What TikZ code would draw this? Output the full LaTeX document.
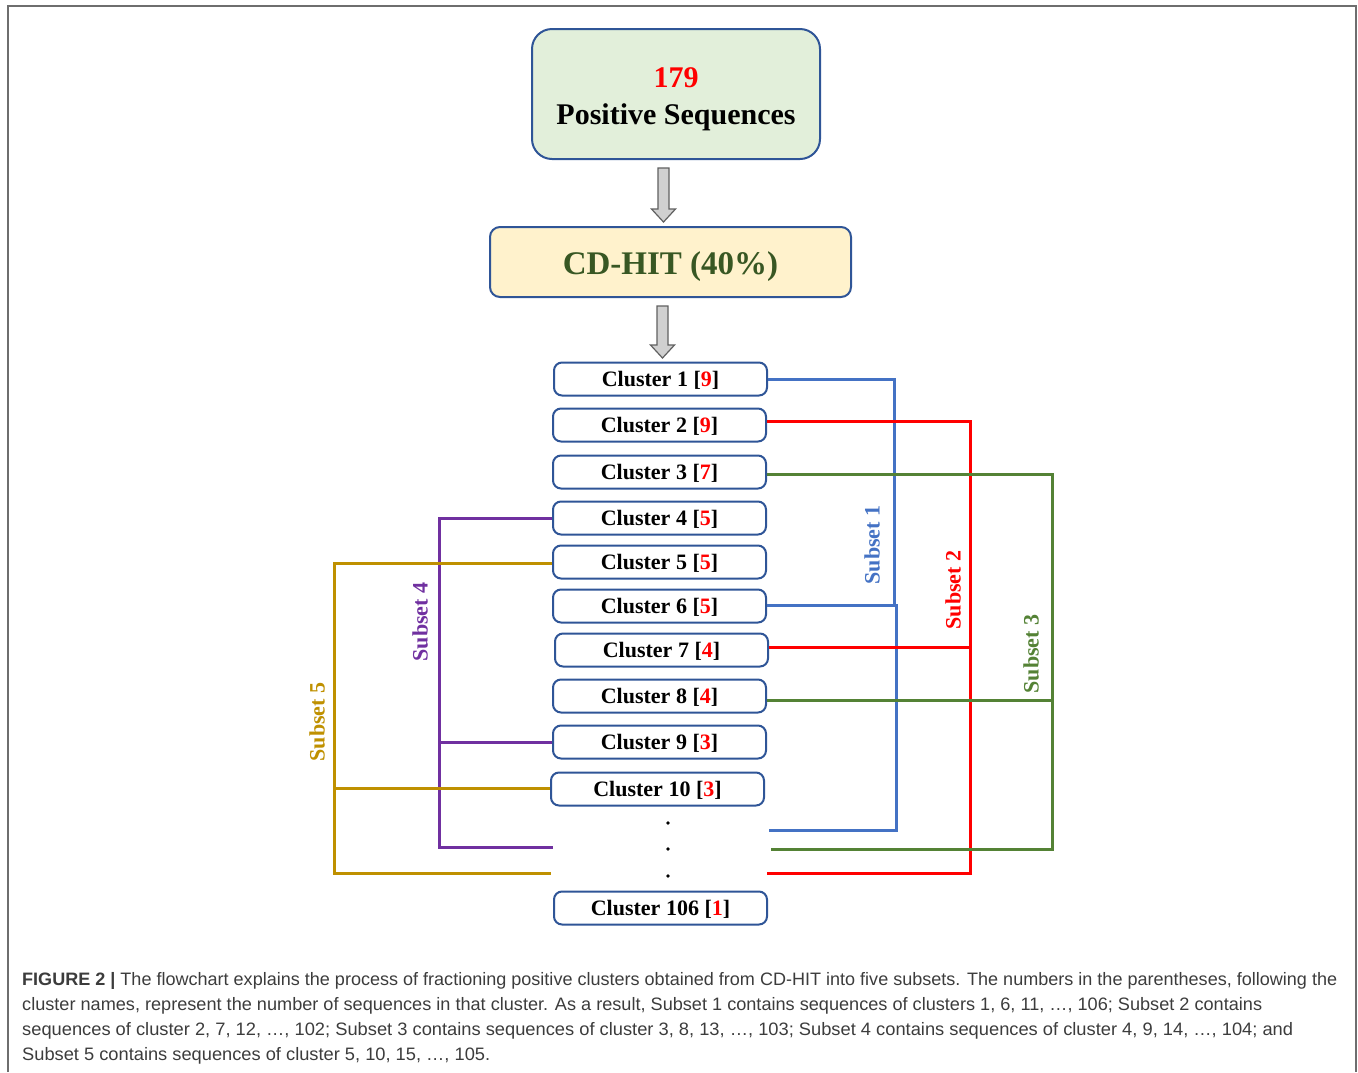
\documentclass[tikz,border=0pt]{standalone}
\usepackage{fontspec}
\setmainfont{Liberation Serif}
\setsansfont{Liberation Sans}
\usepackage{graphicx}
\definecolor{boxblue}{HTML}{2F5597}
\definecolor{greenfill}{HTML}{E2EFDA}
\definecolor{yellowfill}{HTML}{FFF2CC}
\definecolor{darkgreen}{HTML}{385723}
\definecolor{sone}{HTML}{4472C4}
\definecolor{stwo}{HTML}{FF0000}
\definecolor{sthree}{HTML}{548235}
\definecolor{sfour}{HTML}{7030A0}
\definecolor{sfive}{HTML}{BF9000}
\definecolor{capgray}{HTML}{3C3C3C}
\definecolor{framegray}{HTML}{6E6E6E}
\definecolor{arrowfill}{HTML}{D0D0D0}
\definecolor{arrowdraw}{HTML}{606060}
\tikzset{
  cluster/.style={draw=boxblue, line width=2pt, rounded corners=8pt, fill=white,
    minimum width=213pt, minimum height=33pt, inner sep=0pt,
    text height=18pt, text depth=3pt,
    font=\fontsize{22}{26}\selectfont\bfseries},
  subline/.style={line width=3pt},
  sublabel/.style={rotate=90, font=\fontsize{22}{26}\selectfont\bfseries},
  blockarrow/.style={fill=arrowfill, draw=arrowdraw, line width=1.2pt},
  capline/.style={anchor=base west, inner sep=0pt, text=capgray, font=\sffamily\fontsize{18}{22}\selectfont}
}
\newcommand{\rn}[1]{\textcolor{red}{#1}}
\begin{document}
\begin{tikzpicture}[x=1pt,y=-1pt]
\useasboundingbox (0,0) rectangle (1358,1072);
% frame
\draw[framegray, line width=2pt] (8,1072) -- (8,6) -- (1356,6) -- (1356,1072);

% top boxes
\node[draw=boxblue, line width=2pt, rounded corners=20pt, fill=greenfill,
  minimum width=288pt, minimum height=130pt] (pos) at (676,94) {};
\node[align=center, font=\fontsize{30}{37}\selectfont\bfseries] (postext) at (676,99)
  {\rn{179}\\Positive Sequences};
\node[draw=boxblue, line width=2pt, rounded corners=10pt, fill=yellowfill,
  minimum width=361pt, minimum height=70pt] (cd) at (670.5,262) {};
\node[text=darkgreen, font=\fontsize{33}{40}\selectfont\bfseries] (cdtext) at (670.5,267) {CD-HIT (40\%)};

% block arrows
\draw[blockarrow] (658,168) -- (669,168) -- (669,209) -- (675.5,209) -- (663.5,222)
  -- (651.5,209) -- (658,209) -- cycle;
\draw[blockarrow] (657,306) -- (668,306) -- (668,345) -- (674.5,345) -- (662.5,358)
  -- (650.5,345) -- (657,345) -- cycle;

% clusters
\node[cluster] (c1) at (660.5,379) {Cluster 1 [\rn{9}]};
\node[cluster] (c2) at (659.5,425) {Cluster 2 [\rn{9}]};
\node[cluster] (c3) at (659.5,472) {Cluster 3 [\rn{7}]};
\node[cluster] (c4) at (659.5,518) {Cluster 4 [\rn{5}]};
\node[cluster] (c5) at (659.5,562) {Cluster 5 [\rn{5}]};
\node[cluster] (c6) at (659.5,606) {Cluster 6 [\rn{5}]};
\node[cluster] (c7) at (661.5,650) {Cluster 7 [\rn{4}]};
\node[cluster] (c8) at (659.5,696) {Cluster 8 [\rn{4}]};
\node[cluster] (c9) at (659.5,742) {Cluster 9 [\rn{3}]};
\node[cluster] (c10) at (657.5,789) {Cluster 10 [\rn{3}]};
\node[cluster] (c106) at (660.5,908) {Cluster 106 [\rn{1}]};

% dots
\fill (668,823) circle (1.8pt);
\fill (668,849) circle (1.8pt);
\fill (668,876) circle (1.8pt);

% free ends and vertical positions
\coordinate (e1) at (769,830);
\coordinate (e2) at (767,873);
\coordinate (e3) at (771,849);
\coordinate (e4) at (553,847);
\coordinate (e5) at (551,873);
\coordinate (v1) at (894,0);
\coordinate (v1b) at (896,0);
\coordinate (v2) at (970,0);
\coordinate (v3) at (1052,0);
\coordinate (v4) at (439,0);
\coordinate (v5) at (334,0);

% subset 1
\draw[subline, sone] (c1.east) -| ([yshift=1pt]c6.east -| v1);
\draw[subline, sone] ([yshift=1pt]c6.east) -| (e1 -| v1b) -- (e1);
% subset 2
\draw[subline, stwo] ([yshift=4pt]c2.east) -| (e2 -| v2) -- (e2);
\draw[subline, stwo] ([yshift=3pt]c7.east) -- ([yshift=3pt]c7.east -| v2);
% subset 3
\draw[subline, sthree] ([yshift=-2pt]c3.east) -| (e3 -| v3) -- (e3);
\draw[subline, sthree] ([yshift=-4pt]c8.east) -- ([yshift=-4pt]c8.east -| v3);
% subset 4
\draw[subline, sfour] (c4.west) -| (e4 -| v4) -- (e4);
\draw[subline, sfour] (c9.west) -- (c9.west -| v4);
% subset 5
\draw[subline, sfive] ([yshift=-1pt]c5.west) -| (e5 -| v5) -- (e5);
\draw[subline, sfive] ([yshift=1pt]c10.west) -- ([yshift=1pt]c10.west -| v5);

% subset labels
\node[sublabel, text=sone] (l1) at (872,545) {Subset 1};
\node[sublabel, text=stwo] (l2) at (953,590) {Subset 2};
\node[sublabel, text=sthree] (l3) at (1031,654) {Subset 3};
\node[sublabel, text=sfour] (l4) at (420,622) {Subset 4};
\node[sublabel, text=sfive] (l5) at (317,722) {Subset 5};

% caption
\node[capline] (cap1) at (22,985) {\resizebox{1315pt}{\height}{\textbf{FIGURE 2 |} The flowchart explains the process of fractioning positive clusters obtained from CD-HIT into five subsets. The numbers in the parentheses, following the}};
\node[capline] (cap2) at (22,1010) {\resizebox{1240pt}{\height}{cluster names, represent the number of sequences in that cluster. As a result, Subset 1 contains sequences of clusters 1, 6, 11, \dots, 106; Subset 2 contains}};
\node[capline] (cap3) at (22,1035) {\resizebox{1271pt}{\height}{sequences of cluster 2, 7, 12, \dots, 102; Subset 3 contains sequences of cluster 3, 8, 13, \dots, 103; Subset 4 contains sequences of cluster 4, 9, 14, \dots, 104; and}};
\node[capline] (cap4) at (22,1060) {\resizebox{468pt}{\height}{Subset 5 contains sequences of cluster 5, 10, 15, \dots, 105.}};
\end{tikzpicture}
\end{document}
